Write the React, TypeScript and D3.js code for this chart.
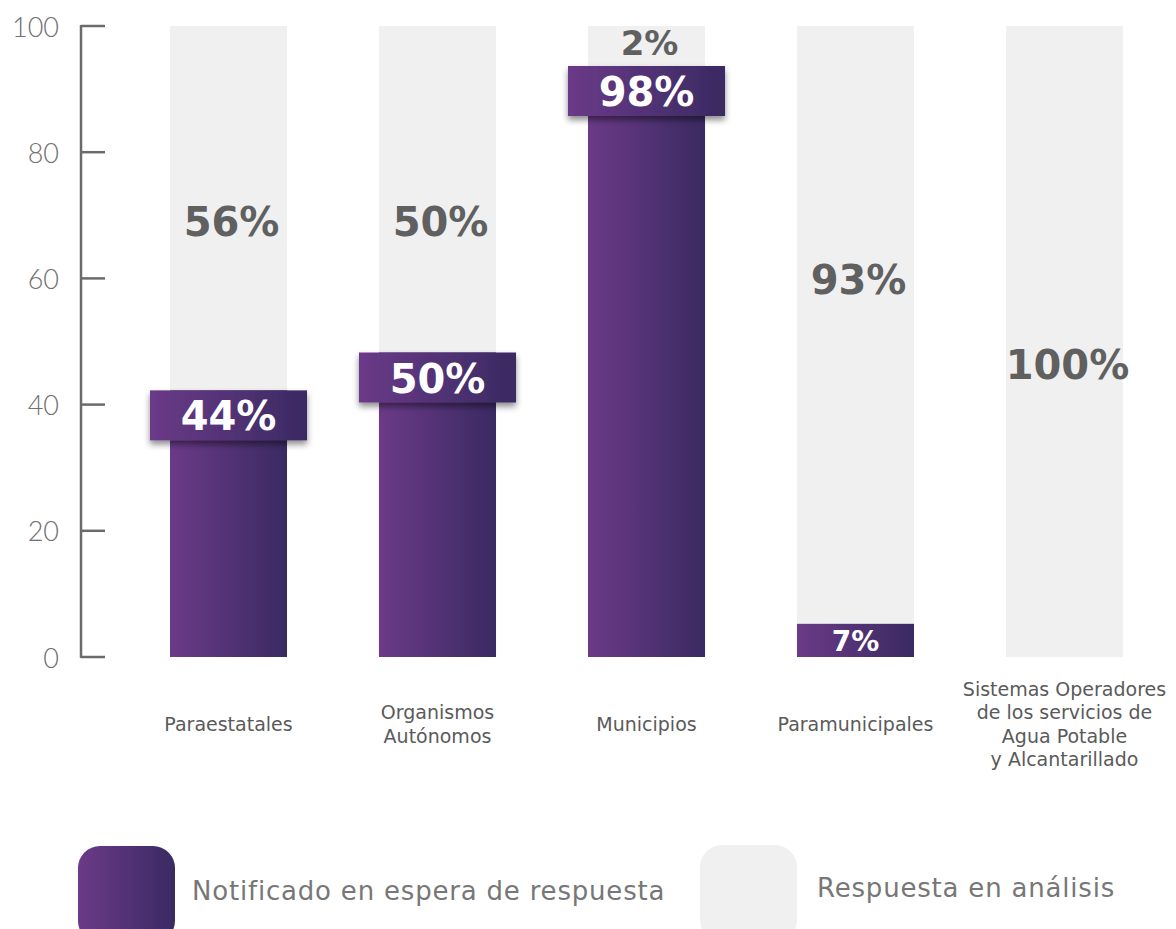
import React from "react";
import * as d3 from "d3";

const categories = [
  ["Paraestatales"],
  ["Organismos", "Autónomos"],
  ["Municipios"],
  ["Paramunicipales"],
  ["Sistemas Operadores", "de los servicios de", "Agua Potable", "y Alcantarillado"],
];
const notified = [44, 50, 98, 7, 0];
const inAnalysis = [56, 50, 2, 93, 100];
// vertical anchor (in axis units) for the grey labels
const analysisLabelAt = [69, 69, 97.3, 59.7, 46.3];
const yTicks = [0, 20, 40, 60, 80, 100];
const legendItems = ["Notificado en espera de respuesta", "Respuesta en análisis"];

const W = 1176;
const H = 929;

export default function App() {
  const keys = categories.map((c) => c.join(" "));
  const x = d3.scaleBand<string>().domain(keys).range([124, 1169]).paddingInner(0.44).paddingOuter(0.22);
  const y = d3.scaleLinear().domain([0, 100]).range([657, 26]);
  const bw = x.bandwidth();
  const boxPad = 20;
  const boxH = 50;
  const font = "'DejaVu Sans', Verdana, sans-serif";

  return (
    <svg width={W} height={H} style={{ position: "absolute", left: 0, top: 0, background: "#fff" }}>
      <defs>
        <linearGradient id="purp" x1="0" x2="1" y1="0" y2="0">
          <stop offset="0" stopColor="#6b3a88" />
          <stop offset="1" stopColor="#3a2a62" />
        </linearGradient>
        <filter id="shadow" x="-20%" y="-30%" width="140%" height="180%">
          <feDropShadow dx="0" dy="4" stdDeviation="3" floodColor="#000" floodOpacity="0.45" />
        </filter>
      </defs>

      {/* y axis */}
      <line x1={81} x2={81} y1={y(100) - 1} y2={y(0) + 1} stroke="#6b6b6b" strokeWidth={2.5} />
      {yTicks.map((t) => (
        <g key={t}>
          <line x1={81} x2={105} y1={y(t)} y2={y(t)} stroke="#6b6b6b" strokeWidth={2.5} />
          <text
            x={59}
            y={y(t)}
            textAnchor="end"
            dominantBaseline="central"
            fontFamily="Lato, sans-serif"
            fontWeight={300}
            fontSize={27}
            fill="#707070"
          >
            {t}
          </text>
        </g>
      ))}

      {/* bars */}
      {keys.map((k, i) => {
        const x0 = x(k)!;
        const cx = x0 + bw / 2;
        const v = notified[i];
        const r = inAnalysis[i];
        const hasBox = v >= 20;
        const barTop = hasBox ? Math.max(y(v) + 11, y(100) + 40) : y(v) + 11;
        return (
          <g key={k}>
            <rect x={x0} y={y(100)} width={bw} height={y(0) - y(100)} fill="#f0f0f0" />
            {v > 0 && (
              <rect x={x0} y={barTop} width={bw} height={y(0) - barTop} fill="url(#purp)" />
            )}
            {v > 0 && hasBox && (
              <>
                <rect
                  x={x0 - boxPad}
                  y={barTop}
                  width={bw + boxPad * 2}
                  height={boxH}
                  fill="url(#purp)"
                  filter="url(#shadow)"
                />
                <text
                  x={cx}
                  y={barTop + boxH / 2 + 1}
                  textAnchor="middle"
                  dominantBaseline="central"
                  fontFamily={font}
                  fontWeight={700}
                  fontSize={40}
                  fill="#fff"
                >
                  {v}%
                </text>
              </>
            )}
            {v > 0 && !hasBox && (
              <text
                x={cx}
                y={(barTop + y(0)) / 2 + 1}
                textAnchor="middle"
                dominantBaseline="central"
                fontFamily={font}
                fontWeight={700}
                fontSize={28}
                fill="#fff"
              >
                {v}%
              </text>
            )}
            <text
              x={cx + 3}
              y={y(analysisLabelAt[i])}
              textAnchor="middle"
              dominantBaseline="central"
              fontFamily={font}
              fontWeight={700}
              fontSize={r < 10 ? 34 : 40}
              fill="#606060"
            >
              {r}%
            </text>
            <text x={cx} textAnchor="middle" fontFamily={font} fontSize={19} fill="#5a5a5a">
              {categories[i].map((line, j) => (
                <tspan
                  key={j}
                  x={cx}
                  y={724 + (j - (categories[i].length - 1) / 2) * 23.5}
                  dominantBaseline="central"
                >
                  {line}
                </tspan>
              ))}
            </text>
          </g>
        );
      })}

      {/* legend */}
      <rect x={78} y={846} width={97} height={97} rx={22} fill="url(#purp)" />
      <text
        x={192}
        y={891}
        dominantBaseline="central"
        fontFamily={font}
        fontSize={26}
        letterSpacing={0.8}
        fill="#777"
      >
        {legendItems[0]}
      </text>
      <rect x={700} y={845} width={97} height={97} rx={22} fill="#f0f0f0" />
      <text
        x={817}
        y={888}
        dominantBaseline="central"
        fontFamily={font}
        fontSize={26}
        letterSpacing={0.8}
        fill="#777"
      >
        {legendItems[1]}
      </text>
    </svg>
  );
}
